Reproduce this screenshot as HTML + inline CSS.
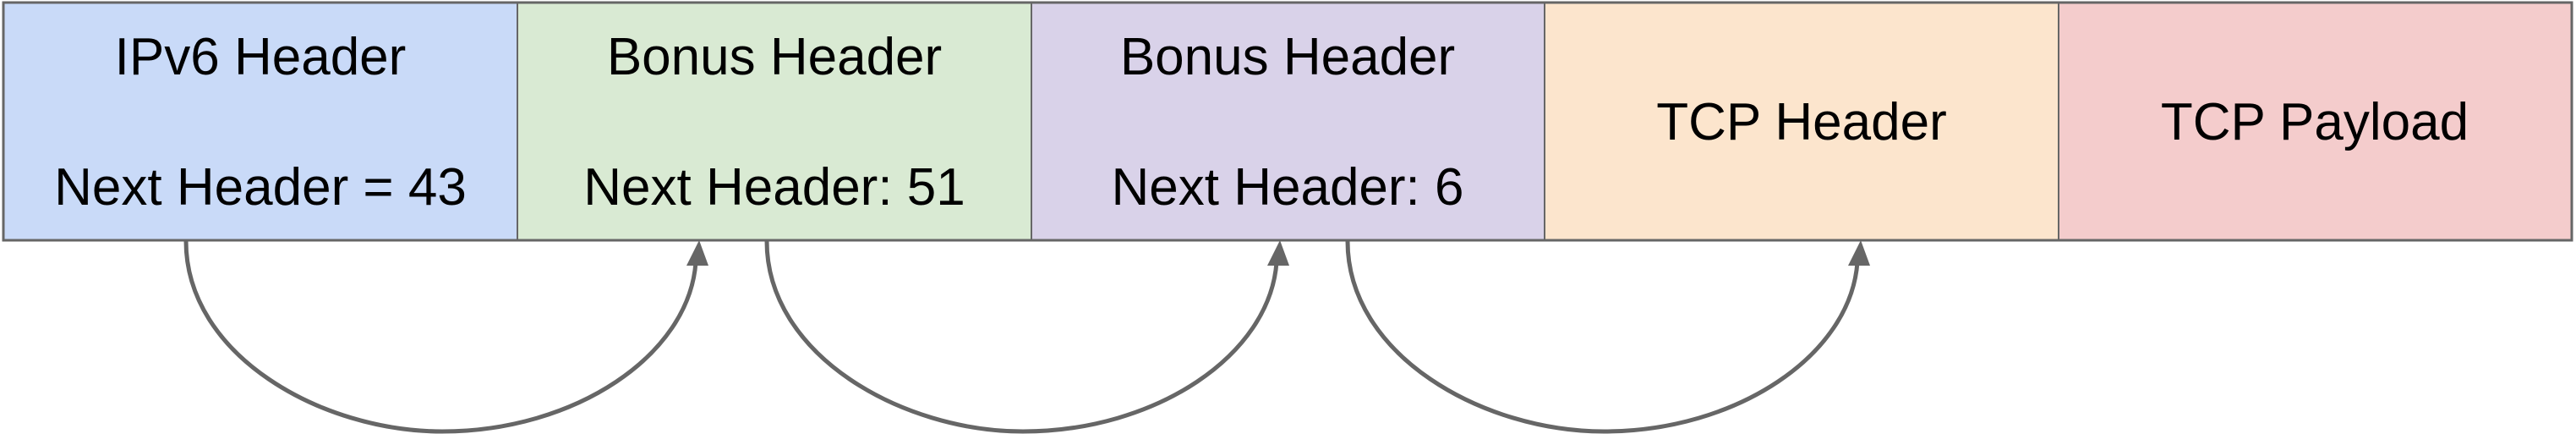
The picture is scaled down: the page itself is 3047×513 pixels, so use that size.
<!DOCTYPE html>
<html><head><style>
html,body{margin:0;padding:0;background:#fff;width:3047px;height:513px;overflow:hidden}
svg{display:block}
text{font-family:"Liberation Sans",Arial,sans-serif;font-size:62px;fill:#000;text-anchor:middle}
</style></head><body>
<svg width="3047" height="513" viewBox="0 0 3047 513">
<rect x="4" y="3" width="608" height="281" fill="#c9daf8"/>
<rect x="612" y="3" width="608" height="281" fill="#d9ead3"/>
<rect x="1220" y="3" width="607" height="281" fill="#d9d2e9"/>
<rect x="1827" y="3" width="608" height="281" fill="#fce5cd"/>
<rect x="2435" y="3" width="607" height="281" fill="#f4cccc"/>
<g stroke="#666" fill="none">
<rect x="4" y="3" width="3038" height="281" stroke-width="3"/>
<line x1="612" y1="3" x2="612" y2="284" stroke-width="2"/>
<line x1="1220" y1="3" x2="1220" y2="284" stroke-width="2"/>
<line x1="1827" y1="3" x2="1827" y2="284" stroke-width="2"/>
<line x1="2435" y1="3" x2="2435" y2="284" stroke-width="2"/>
</g>
<text x="308" y="88">IPv6 Header</text>
<text x="308" y="242">Next Header = 43</text>
<text x="916" y="88">Bonus Header</text>
<text x="916" y="242">Next Header: 51</text>
<text x="1523" y="88">Bonus Header</text>
<text x="1523" y="242">Next Header: 6</text>
<text x="2131" y="165">TCP Header</text>
<text x="2738" y="165">TCP Payload</text>
<path d="M220 285 C220 420 380 510 523 510 C680 510 815 420 823 310" fill="none" stroke="#666" stroke-width="5"/>
<polygon points="827,284 812,314 838,314" fill="#666"/>
<g transform="translate(687,0)">
<path d="M220 285 C220 420 380 510 523 510 C680 510 815 420 823 310" fill="none" stroke="#666" stroke-width="5"/>
<polygon points="827,284 812,314 838,314" fill="#666"/>
</g>
<g transform="translate(1374,0)">
<path d="M220 285 C220 420 380 510 523 510 C680 510 815 420 823 310" fill="none" stroke="#666" stroke-width="5"/>
<polygon points="827,284 812,314 838,314" fill="#666"/>
</g>
</svg>
</body></html>
